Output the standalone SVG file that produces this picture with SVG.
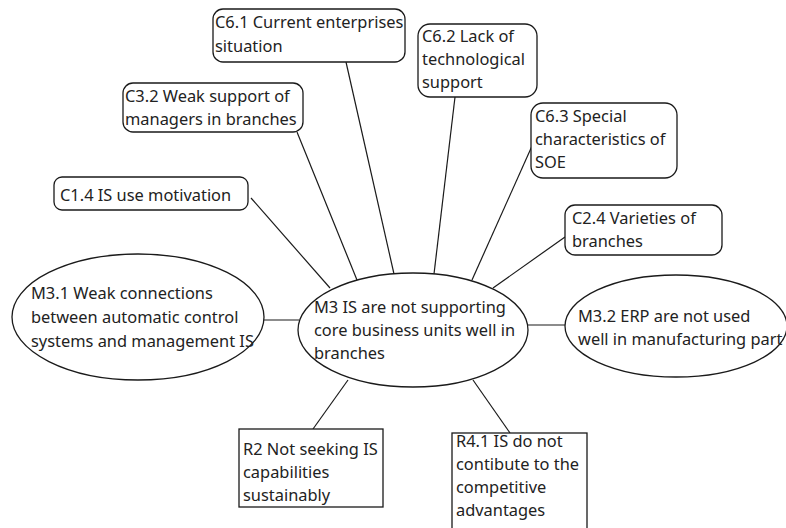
<svg xmlns="http://www.w3.org/2000/svg" width="786" height="528" viewBox="0 0 786 528">
  <style>
    .bg { fill: #ffffff; }
    .shape { fill: #ffffff; stroke: #1a1a1a; stroke-width: 1.3; }
    .link { stroke: #1a1a1a; stroke-width: 1.2; fill: none; }
    text { font-family: "Noto Sans", "Open Sans", sans-serif; font-size: 16.4px; fill: #222222; }
  </style>
  <rect class="bg" x="0" y="0" width="786" height="528"/>

  <!-- connectors from the central problem to each related item -->
  <g id="connectors">
    <line class="link" x1="346" y1="62" x2="394" y2="274"/>
    <line class="link" x1="455" y1="97" x2="434" y2="274"/>
    <line class="link" x1="297" y1="132" x2="357" y2="280"/>
    <line class="link" x1="532" y1="146" x2="472" y2="280"/>
    <line class="link" x1="565" y1="237" x2="493" y2="288"/>
    <line class="link" x1="251" y1="198" x2="330" y2="288"/>
    <line class="link" x1="264" y1="320" x2="299" y2="320"/>
    <line class="link" x1="528" y1="325" x2="565" y2="325"/>
    <line class="link" x1="313" y1="429" x2="348" y2="380"/>
    <line class="link" x1="510" y1="433" x2="473" y2="380"/>
  </g>

  <g id="m3">
    <ellipse class="shape" cx="413" cy="330" rx="115" ry="57"/>
    <text x="314" y="313">M3 IS are not supporting</text>
    <text x="314" y="336">core business units well in</text>
    <text x="314" y="359">branches</text>
  </g>

  <g id="c6-1">
    <rect class="shape" x="213" y="9" width="192" height="53" rx="10"/>
    <text x="215" y="28">C6.1 Current enterprises</text>
    <text x="215" y="52">situation</text>
  </g>

  <g id="c6-2">
    <rect class="shape" x="418" y="24" width="119" height="73" rx="12"/>
    <text x="422" y="42">C6.2 Lack of</text>
    <text x="422" y="65">technological</text>
    <text x="422" y="88">support</text>
  </g>

  <g id="c6-3">
    <rect class="shape" x="531" y="103" width="146" height="75" rx="12"/>
    <text x="535" y="122">C6.3 Special</text>
    <text x="535" y="145">characteristics of</text>
    <text x="535" y="168">SOE</text>
  </g>

  <g id="c3-2">
    <rect class="shape" x="123" y="83" width="180" height="49" rx="10"/>
    <text x="125" y="102">C3.2 Weak support of</text>
    <text x="125" y="125">managers in branches</text>
  </g>

  <g id="c1-4">
    <rect class="shape" x="54" y="177" width="194" height="33" rx="8"/>
    <text x="60" y="201">C1.4 IS use motivation</text>
  </g>

  <g id="c2-4">
    <rect class="shape" x="565" y="205" width="157" height="50" rx="10"/>
    <text x="572" y="224">C2.4 Varieties of</text>
    <text x="572" y="247">branches</text>
  </g>

  <g id="m3-1">
    <ellipse class="shape" cx="138" cy="317" rx="126" ry="63"/>
    <text x="31" y="299">M3.1 Weak connections</text>
    <text x="31" y="323">between automatic control</text>
    <text x="31" y="347">systems and management IS</text>
  </g>

  <g id="m3-2">
    <ellipse class="shape" cx="676" cy="326" rx="111" ry="51"/>
    <text x="578" y="322">M3.2 ERP are not used</text>
    <text x="578" y="345">well in manufacturing part</text>
  </g>

  <g id="r2">
    <rect class="shape" x="239" y="429" width="144" height="78"/>
    <text x="243" y="455">R2 Not seeking IS</text>
    <text x="243" y="478">capabilities</text>
    <text x="243" y="501">sustainably</text>
  </g>

  <g id="r4-1">
    <rect class="shape" x="452" y="433" width="135" height="100"/>
    <text x="456" y="447">R4.1 IS do not</text>
    <text x="456" y="470">contibute to the</text>
    <text x="456" y="493">competitive</text>
    <text x="456" y="516">advantages</text>
  </g>
</svg>
